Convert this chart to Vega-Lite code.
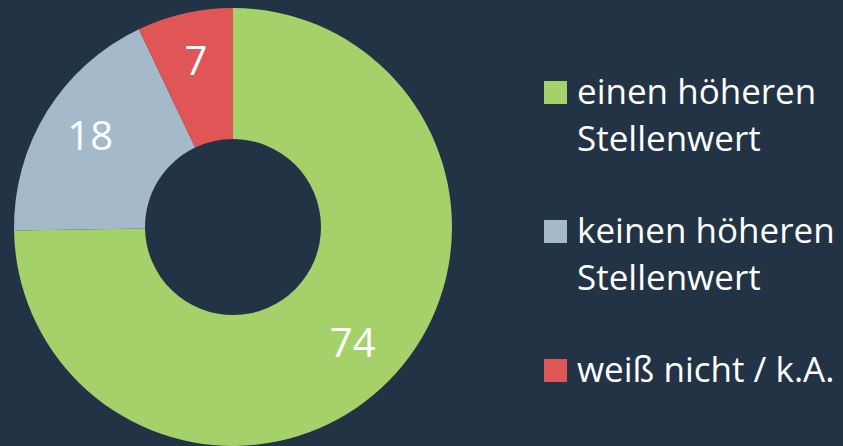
{
  "$schema": "https://vega.github.io/schema/vega-lite/v6.json",
  "width": 466,
  "height": 454,
  "autosize": "none",
  "padding": {"left": 0, "top": 0, "right": 377, "bottom": 0},
  "background": "#223345",
  "config": {
    "view": {"stroke": null},
    "font": "Open Sans",
    "style": {"guide-label": {"lineHeight": 47}}
  },
  "data": {"values": [
    {"kategorie": "einen höheren\nStellenwert", "wert": 74},
    {"kategorie": "keinen höheren\nStellenwert", "wert": 18},
    {"kategorie": "weiß nicht / k.A.", "wert": 7}
  ]},
  "encoding": {
    "theta": {"field": "wert", "type": "quantitative", "stack": true},
    "color": {
      "field": "kategorie", "type": "nominal",
      "scale": {
        "domain": ["einen höheren\nStellenwert", "keinen höheren\nStellenwert", "weiß nicht / k.A."],
        "range": ["#A5D16A", "#A4B9C9", "#E05556"]
      },
      "legend": {
        "title": null,
        "orient": "none",
        "legendX": 538,
        "legendY": 75,
        "padding": 0,
        "symbolType": "square",
        "symbolSize": 529,
        "symbolStrokeWidth": 0,
        "symbolOpacity": 1,
        "labelFontSize": 35,
        "labelColor": "#FFFFFF",
        "labelFont": "Open Sans",
        "labelLimit": 0,
        "labelOffset": 4,
        "labelExpr": "split(datum.label, '\\n')",
        "rowPadding": 56
      }
    }
  },
  "layer": [
    {"mark": {"type": "arc", "innerRadius": 88, "outerRadius": 219}},
    {
      "mark": {"type": "text", "radius": 168, "fontSize": 40, "fill": "#FFFFFF", "font": "Open Sans"},
      "encoding": {"text": {"field": "wert", "type": "quantitative"}}
    }
  ]
}
